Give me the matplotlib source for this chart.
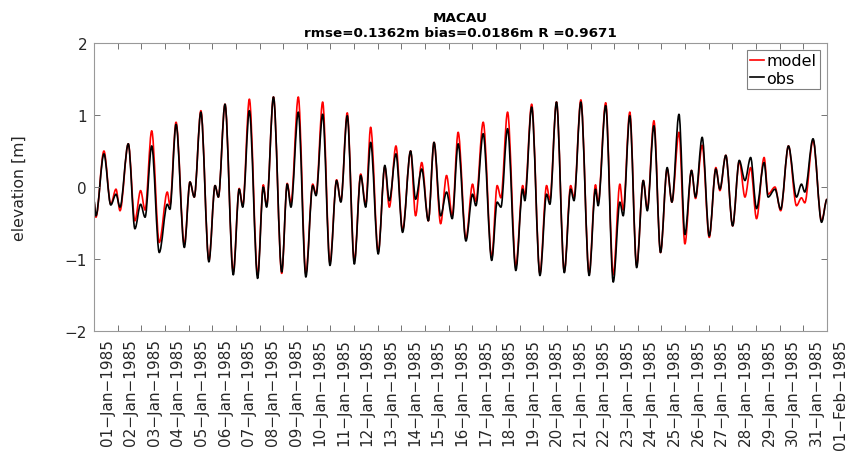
# MACAU 潮位验证：模型 vs 观测
import numpy as np
import matplotlib
matplotlib.use('Agg')
import matplotlib.pyplot as plt
import matplotlib.dates as mdates
import matplotlib.transforms as mtransforms
from matplotlib.path import Path
from matplotlib.patches import PathPatch
from matplotlib.lines import Line2D

# 极值时刻（自1985-01-01起的天数）与对应水位 [m]
t_days = [0.00, 0.08, 0.42, 0.71, 0.93, 1.10, 1.45, 1.73, 1.97, 2.16,
          2.44, 2.76, 3.10, 3.21, 3.47, 3.82, 4.06, 4.24, 4.52, 4.86,
          5.12, 5.26, 5.54, 5.89, 6.14, 6.29, 6.57, 6.92, 7.16, 7.30,
          7.59, 7.94, 8.17, 8.33, 8.64, 8.96, 9.25, 9.39, 9.67, 9.98,
          10.26, 10.44, 10.71, 11.01, 11.28, 11.49, 11.70, 12.02, 12.30, 12.49,
          12.77, 13.05, 13.39, 13.60, 13.86, 14.14, 14.38, 14.66, 14.91, 15.15,
          15.40, 15.73, 16.01, 16.15, 16.46, 16.82, 17.05, 17.21, 17.49, 17.84,
          18.13, 18.22, 18.51, 18.86, 19.14, 19.28, 19.56, 19.89, 20.16, 20.30,
          20.59, 20.94, 21.21, 21.32, 21.64, 21.96, 22.24, 22.38, 22.66, 22.95,
          23.23, 23.40, 23.68, 23.96, 24.24, 24.44, 24.74, 24.99, 25.27, 25.44,
          25.72, 26.02, 26.30, 26.47, 26.72, 27.01, 27.29, 27.53, 27.77, 28.02,
          28.34, 28.51, 28.80, 29.04, 29.37, 29.71, 29.92, 30.06, 30.41, 30.77,
          31.00]

obs = [-0.19, -0.40, 0.46, -0.25, -0.10, -0.28, 0.60, -0.58, -0.24, -0.42,
       0.57, -0.91, -0.24, -0.31, 0.87, -0.84, 0.07, -0.14, 1.04, -1.04,
       0.02, -0.14, 1.15, -1.22, -0.03, -0.28, 1.06, -1.27, 0.00, -0.28,
       1.25, -1.18, 0.04, -0.28, 1.04, -1.25, 0.02, -0.12, 1.01, -1.09,
       0.09, -0.21, 0.99, -1.07, 0.16, -0.28, 0.62, -0.93, 0.30, -0.19,
       0.46, -0.63, 0.50, -0.17, 0.25, -0.47, 0.62, -0.40, -0.07, -0.44,
       0.60, -0.75, -0.10, -0.26, 0.74, -1.02, -0.21, -0.28, 0.81, -1.16,
       -0.03, -0.19, 1.11, -1.23, -0.10, -0.24, 1.18, -1.19, -0.03, -0.19,
       1.18, -1.23, -0.03, -0.26, 1.13, -1.32, -0.21, -0.40, 0.99, -1.12,
       0.09, -0.33, 0.85, -0.91, 0.27, -0.21, 1.01, -0.66, 0.23, -0.14,
       0.69, -0.68, 0.25, -0.03, 0.44, -0.54, 0.37, 0.09, 0.41, -0.30,
       0.34, -0.14, -0.03, -0.31, 0.57, -0.14, 0.04, -0.07, 0.67, -0.49,
       -0.17]

model = [-0.22, -0.42, 0.50, -0.24, -0.03, -0.33, 0.60, -0.47, -0.05, -0.32,
         0.78, -0.77, -0.07, -0.25, 0.90, -0.80, 0.07, -0.14, 1.06, -1.02,
         0.02, -0.14, 1.15, -1.18, -0.02, -0.26, 1.22, -1.22, 0.03, -0.26,
         1.25, -1.20, 0.05, -0.22, 1.25, -1.20, 0.04, -0.10, 1.18, -1.05,
         0.10, -0.20, 1.03, -1.03, 0.18, -0.25, 0.83, -0.90, 0.28, -0.28,
         0.57, -0.60, 0.50, -0.40, 0.34, -0.47, 0.62, -0.51, 0.16, -0.40,
         0.76, -0.72, 0.04, -0.20, 0.90, -0.98, 0.02, -0.15, 1.04, -1.10,
         0.02, -0.12, 1.15, -1.20, 0.02, -0.18, 1.18, -1.17, 0.02, -0.15,
         1.21, -1.20, 0.03, -0.22, 1.17, -1.22, 0.04, -0.32, 1.04, -1.09,
         0.09, -0.30, 0.92, -0.91, 0.25, -0.21, 0.76, -0.79, 0.23, -0.16,
         0.58, -0.70, 0.27, -0.05, 0.44, -0.54, 0.36, -0.14, 0.27, -0.44,
         0.41, -0.10, 0.00, -0.33, 0.57, -0.26, -0.15, -0.22, 0.65, -0.47,
         -0.17]

station = 'MACAU'
stats = 'rmse=0.1362m bias=0.0186m R =0.9671'

start = np.datetime64('1985-01-01T00:00')
end = np.datetime64('1985-02-01T00:00')
times = start + np.round(np.array(t_days) * 1440).astype('timedelta64[m]')
tick_dates = np.arange(start, end + np.timedelta64(1, 'D'), np.timedelta64(1, 'D'))


def tide_path(x, y):
    # 极值点之间用水平切线的三次曲线连接（极值处斜率为0）
    verts = [(x[0], y[0])]
    codes = [Path.MOVETO]
    for i in range(len(x) - 1):
        dx = (x[i + 1] - x[i]) / 3
        verts += [(x[i] + dx, y[i]), (x[i + 1] - dx, y[i + 1]), (x[i + 1], y[i + 1])]
        codes += [Path.CURVE4] * 3
    return Path(verts, codes)


plt.rcParams['font.family'] = ['DejaVu Sans']

fig = plt.figure(figsize=(8.52, 4.52), dpi=100)
ax = fig.add_axes([94 / 852, 1 - 332 / 452, 733 / 852, 288 / 452])

xnum = mdates.date2num(times)
ax.add_patch(PathPatch(tide_path(xnum, model), fill=False, edgecolor='r',
                       lw=1.2, joinstyle='round'))
ax.add_patch(PathPatch(tide_path(xnum, obs), fill=False, edgecolor='k',
                       lw=1.2, joinstyle='round'))

ax.set_xlim(start, end)
ax.set_ylim(-2, 2)
ax.set_yticks([-2, -1, 0, 1, 2])
ax.set_xticks(tick_dates)
ax.set_xticklabels([])

for s in ax.spines.values():
    s.set_color('0.6')
    s.set_linewidth(0.8)
ax.tick_params(direction='in', length=4, width=0.7, color='0.45',
               top=True, right=True, labelsize=11, labelcolor='0.15', pad=5)

# 日期标签（竖排，相对刻度右移）
offset = mtransforms.ScaledTranslation(13 / 100, -7 / 100, fig.dpi_scale_trans)
for d in tick_dates:
    lab = d.astype(object).strftime('%d-%b-%Y').replace('-', '\u2212')
    ax.text(d, 0, lab, transform=ax.get_xaxis_transform() + offset,
            rotation=90, ha='center', va='top', fontsize=11, color='0.15',
            clip_on=False)

ax.set_ylabel('elevation [m]', fontsize=11.3, color='0.15')
ax.yaxis.set_label_coords(-0.092, 0.5)

ax.set_title(station + '\n' + stats, fontsize=9.7, fontweight='bold',
             pad=5, linespacing=1.2)

handles = [Line2D([], [], color='r', lw=1.2), Line2D([], [], color='k', lw=1.2)]
leg = ax.legend(handles, ['model', 'obs'], loc='upper right', fontsize=11.5,
                handlelength=0.9, handletextpad=0.15, borderpad=0.2,
                labelspacing=0.15, borderaxespad=0.45, fancybox=False,
                framealpha=1)
leg.get_frame().set_edgecolor('0.5')
leg.get_frame().set_linewidth(0.8)

fig.savefig('out.png', dpi=100)
